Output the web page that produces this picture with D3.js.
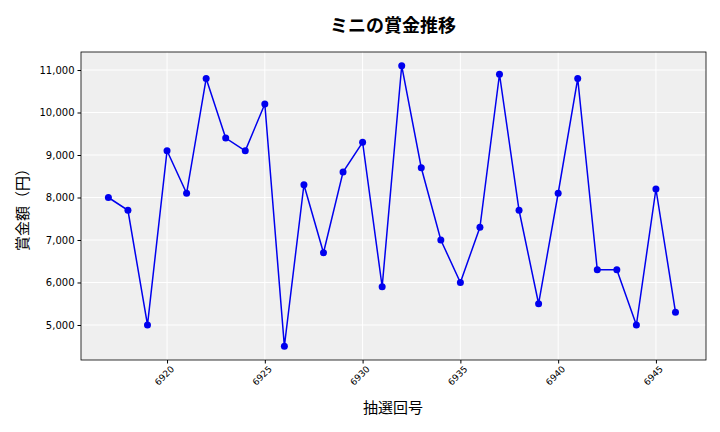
<!DOCTYPE html>
<html><head><meta charset="utf-8">
<script src="https://cdn.jsdelivr.net/npm/d3@7"></script>
<style>body{margin:0;background:#fff;font-family:"Noto Sans CJK JP","DejaVu Sans",sans-serif;}</style>
</head><body><svg id="c" width="720" height="432"></svg>
<script>
// draw numbers from the reference
var draws = [6917,6918,6919,6920,6921,6922,6923,6924,6925,6926,6927,6928,6929,6930,6931,6932,6933,6934,6935,6936,6937,6938,6939,6940,6941,6942,6943,6944,6945,6946];
var prizes = [8000,7700,5000,9100,8100,10800,9400,9100,10200,4500,8300,6700,8600,9300,5900,11100,8700,7000,6000,7300,10900,7700,5500,8100,10800,6300,6300,5000,8200,5300];
var xTicks = [6920,6925,6930,6935,6940,6945];
var yTicks = [5000,6000,7000,8000,9000,10000,11000];

var svg = d3.select('#c');
var pLeft = 81, pRight = 706, pTop = 52, pBottom = 360;
var x = d3.scaleLinear().domain([6915.6,6947.56]).range([pLeft,pRight]);
var y = d3.scaleLinear().domain([4176,11424]).range([pBottom,pTop]);

svg.append('rect').attr('x',pLeft).attr('y',pTop).attr('width',pRight-pLeft).attr('height',pBottom-pTop)
  .attr('fill','#efefef');

// grid
svg.selectAll('.gy').data(yTicks).enter().append('line')
  .attr('x1',pLeft).attr('x2',pRight).attr('y1',function(d){return y(d);}).attr('y2',function(d){return y(d);})
  .attr('stroke','#fff').attr('stroke-width',1);
svg.selectAll('.gx').data(xTicks).enter().append('line')
  .attr('y1',pTop).attr('y2',pBottom).attr('x1',function(d){return x(d);}).attr('x2',function(d){return x(d);})
  .attr('stroke','#fff').attr('stroke-width',1);

svg.append('rect').attr('x',pLeft).attr('y',pTop).attr('width',pRight-pLeft).attr('height',pBottom-pTop)
  .attr('fill','none').attr('stroke','#000').attr('stroke-width',0.8);

// axes
var xa = svg.append('g').attr('transform','translate(0,'+pBottom+')')
  .call(d3.axisBottom(x).tickValues(xTicks).tickFormat(d3.format('d')).tickSize(3.5));
xa.select('.domain').remove();
xa.selectAll('text').attr('transform','rotate(-45)').attr('text-anchor','end')
  .attr('dx','-0.2em').attr('dy','0.6em').attr('font-size',9).attr('font-family','DejaVu Sans');

var ya = svg.append('g').attr('transform','translate('+pLeft+',0)')
  .call(d3.axisLeft(y).tickValues(yTicks).tickFormat(d3.format(',')).tickSize(3.5));
ya.select('.domain').remove();
ya.selectAll('text').attr('font-size',10).attr('font-family','DejaVu Sans');

// line + points
var line = d3.line().x(function(d,i){return x(draws[i]);}).y(function(d){return y(d);});
svg.append('path').datum(prizes).attr('d',line).attr('fill','none').attr('stroke','#0000ee').attr('stroke-width',1.5);
svg.selectAll('.pt').data(prizes).enter().append('circle')
  .attr('cx',function(d,i){return x(draws[i]);}).attr('cy',function(d){return y(d);})
  .attr('r',3.5).attr('fill','#0000ee');

// labels
svg.append('text').attr('x',393).attr('y',32).attr('text-anchor','middle')
  .attr('font-size',18).attr('font-weight','bold').text('ミニの賞金推移');
svg.append('text').attr('x',393).attr('y',413).attr('text-anchor','middle')
  .attr('font-size',15).text('抽選回号');
svg.append('text').attr('transform','translate(28,206) rotate(-90)').attr('text-anchor','middle')
  .attr('font-size',15).text('賞金額（円）');
</script></body></html>
